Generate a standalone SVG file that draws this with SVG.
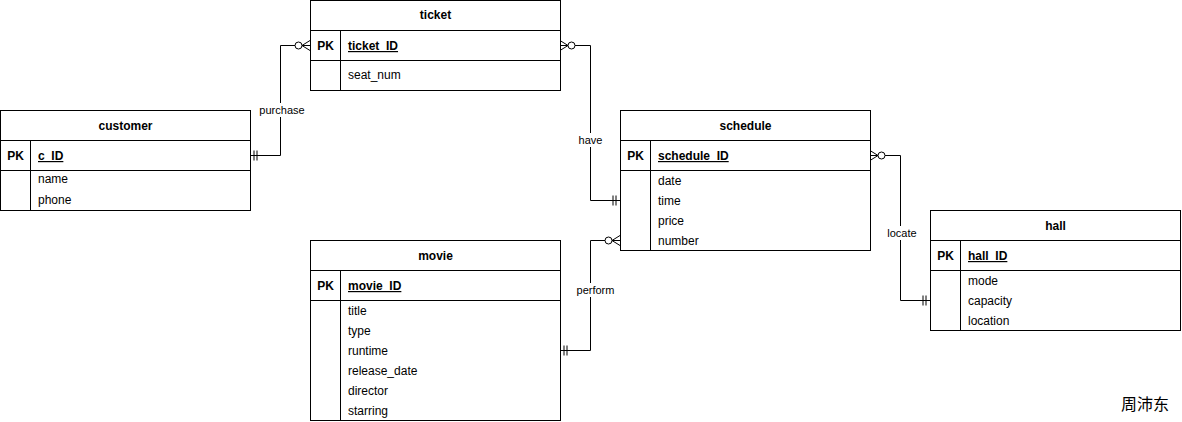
<svg xmlns="http://www.w3.org/2000/svg" width="1182" height="422" viewBox="0 0 1182 422">
<style>
rect.box{fill:#fff;stroke:#000;stroke-width:1}
line.sep{stroke:#000;stroke-width:1}
text{font-family:"Liberation Sans",Arial,sans-serif;font-size:12px;fill:#000}
.h{font-weight:bold;text-anchor:middle}
.pk{font-weight:bold;text-anchor:middle}
.pka{font-weight:bold;text-decoration:underline}
.lbl{font-size:11px;text-anchor:middle}
.conn{fill:none;stroke:#000;stroke-width:1}
.lblbg{fill:#fff}
.sig{font-family:"Noto Sans CJK SC","Noto Sans CJK JP",sans-serif;font-size:16px;font-weight:normal;text-anchor:middle}
</style>
<defs>
<marker id="zeroMany" markerUnits="userSpaceOnUse" viewBox="-20 -10 22 20" refX="0" refY="0" markerWidth="22" markerHeight="20" orient="auto-start-reverse" overflow="visible">
<path d="M-8,0 L0,-5 M-8,0 L0,5 M-8,0 L0,0" fill="none" stroke="#000" stroke-width="1"/>
<circle cx="-11.5" cy="0" r="3.5" fill="#fff" stroke="#000" stroke-width="1"/>
</marker>
<marker id="one" markerUnits="userSpaceOnUse" viewBox="-20 -10 22 20" refX="0" refY="0" markerWidth="22" markerHeight="20" orient="auto-start-reverse" overflow="visible">
<path d="M-4,-5 L-4,5 M-7,-5 L-7,5" fill="none" stroke="#000" stroke-width="1"/>
</marker>
</defs>
<rect width="1182" height="422" fill="#fff"/>

<g id="connectors">
<path class="conn" d="M250,155.5 H280.5 V45.5 H310" marker-start="url(#one)" marker-end="url(#zeroMany)"/>
<path class="conn" d="M560,45.5 H590.5 V200.5 H620" marker-start="url(#zeroMany)" marker-end="url(#one)"/>
<path class="conn" d="M560,350.5 H590.5 V240.5 H620" marker-start="url(#one)" marker-end="url(#zeroMany)"/>
<path class="conn" d="M870,155.5 H900.5 V300.5 H930" marker-start="url(#zeroMany)" marker-end="url(#one)"/>
<rect class="lblbg" x="259" y="103" width="46" height="14"/>
<text class="lbl" x="282" y="114">purchase</text>
<rect class="lblbg" x="577" y="133" width="27" height="14"/>
<text class="lbl" x="590.5" y="144">have</text>
<rect class="lblbg" x="575" y="283" width="41" height="14"/>
<text class="lbl" x="595.5" y="294">perform</text>
<rect class="lblbg" x="885" y="226" width="33" height="14"/>
<text class="lbl" x="902" y="237">locate</text>
</g>

<g id="ticket">
<rect class="box" x="310.5" y="0.5" width="250" height="90"/>
<line class="sep" x1="310.5" y1="30.5" x2="560.5" y2="30.5"/>
<line class="sep" x1="310.5" y1="60.5" x2="560.5" y2="60.5"/>
<line class="sep" x1="340.5" y1="30.5" x2="340.5" y2="90.5"/>
<text class="h" x="435.5" y="19">ticket</text>
<text class="pk" x="325.5" y="50">PK</text>
<text class="pka" x="348" y="50">ticket_ID</text>
<text x="348" y="79">seat_num</text>
</g>

<g id="customer">
<rect class="box" x="0.5" y="110.5" width="250" height="100"/>
<line class="sep" x1="0.5" y1="140.5" x2="250.5" y2="140.5"/>
<line class="sep" x1="0.5" y1="170.5" x2="250.5" y2="170.5"/>
<line class="sep" x1="30.5" y1="140.5" x2="30.5" y2="210.5"/>
<text class="h" x="125.5" y="130">customer</text>
<text class="pk" x="15.5" y="160">PK</text>
<text class="pka" x="38" y="160">c_ID</text>
<text x="38" y="183">name</text>
<text x="38" y="204">phone</text>
</g>

<g id="schedule">
<rect class="box" x="620.5" y="110.5" width="250" height="140"/>
<line class="sep" x1="620.5" y1="140.5" x2="870.5" y2="140.5"/>
<line class="sep" x1="620.5" y1="170.5" x2="870.5" y2="170.5"/>
<line class="sep" x1="650.5" y1="140.5" x2="650.5" y2="250.5"/>
<text class="h" x="745.5" y="130">schedule</text>
<text class="pk" x="635.5" y="160">PK</text>
<text class="pka" x="658" y="160">schedule_ID</text>
<text x="658" y="185">date</text>
<text x="658" y="205">time</text>
<text x="658" y="225">price</text>
<text x="658" y="245">number</text>
</g>

<g id="movie">
<rect class="box" x="310.5" y="240.5" width="250" height="180"/>
<line class="sep" x1="310.5" y1="270.5" x2="560.5" y2="270.5"/>
<line class="sep" x1="310.5" y1="300.5" x2="560.5" y2="300.5"/>
<line class="sep" x1="340.5" y1="270.5" x2="340.5" y2="420.5"/>
<text class="h" x="435.5" y="260">movie</text>
<text class="pk" x="325.5" y="290">PK</text>
<text class="pka" x="348" y="290">movie_ID</text>
<text x="348" y="315">title</text>
<text x="348" y="335">type</text>
<text x="348" y="355">runtime</text>
<text x="348" y="375">release_date</text>
<text x="348" y="395">director</text>
<text x="348" y="415">starring</text>
</g>

<g id="hall">
<rect class="box" x="930.5" y="210.5" width="250" height="120"/>
<line class="sep" x1="930.5" y1="240.5" x2="1180.5" y2="240.5"/>
<line class="sep" x1="930.5" y1="270.5" x2="1180.5" y2="270.5"/>
<line class="sep" x1="960.5" y1="240.5" x2="960.5" y2="330.5"/>
<text class="h" x="1055.5" y="230">hall</text>
<text class="pk" x="945.5" y="260">PK</text>
<text class="pka" x="968" y="260">hall_ID</text>
<text x="968" y="285">mode</text>
<text x="968" y="305">capacity</text>
<text x="968" y="325">location</text>
</g>

<g id="signature">
<text class="sig" x="1145" y="410">周沛东</text>
</g>
</svg>
